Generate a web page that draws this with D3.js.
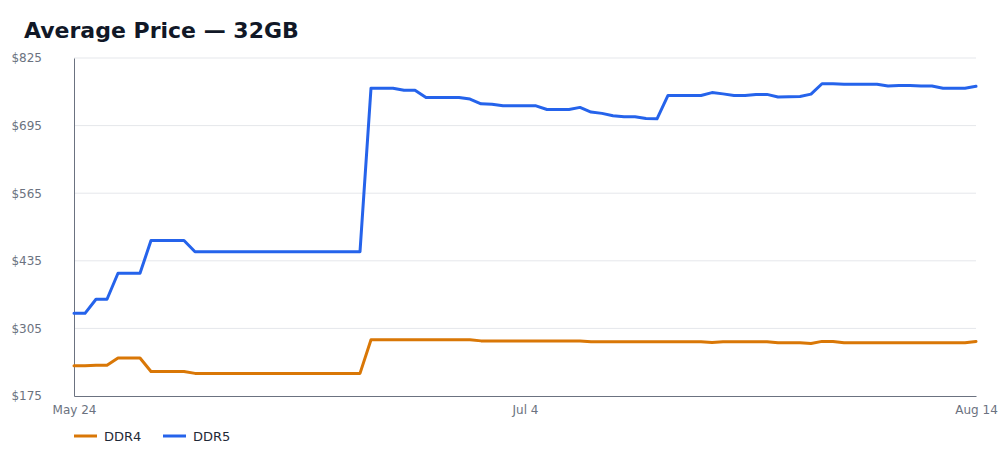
<!DOCTYPE html>
<html>
<head>
<meta charset="utf-8">
<script src="https://cdn.jsdelivr.net/npm/d3@7"></script>
<style>
  html, body { margin: 0; padding: 0; background: #ffffff; }
  svg { display: block; font-family: "DejaVu Sans", sans-serif; }
</style>
</head>
<body>
<svg id="chart" width="1000" height="460"></svg>
<script>
// ---- data ----
const startDate = "2024-05-24";
const endDate = "2024-08-14";
const seriesNames = ["DDR4", "DDR5"];
const ddr4 = [
  233, 233, 234, 234, 248, 248, 248, 222, 222, 222, 222,
  218.5, 218.5, 218.5, 218.5, 218.5, 218.5, 218.5, 218.5,
  218.5, 218.5, 218.5, 218.5, 218.5, 218.5, 218.5, 218.5,
  283, 283, 283, 283, 283, 283, 283, 283, 283, 283,
  281, 281, 281, 281, 281, 281, 281, 281, 281, 281,
  279.5, 279.5, 279.5, 279.5, 279.5, 279.5, 279.5, 279.5, 279.5, 279.5, 279.5,
  278,
  279.5, 279.5, 279.5, 279.5, 279.5,
  277.5, 277.5, 277.5,
  276,
  280, 280,
  277.5, 277.5, 277.5, 277.5, 277.5, 277.5, 277.5, 277.5, 277.5, 277.5, 277.5, 277.5,
  280
];
const ddr5 = [
  334, 334, 361, 361, 411, 411, 411, 474, 474, 474, 474,
  452.5, 452.5, 452.5, 452.5, 452.5, 452.5, 452.5, 452.5,
  452.5, 452.5, 452.5, 452.5, 452.5, 452.5, 452.5, 452.5,
  767, 767, 767, 763, 763, 749, 749, 749, 749, 746,
  737, 736, 733, 733, 733, 733, 726, 726, 726, 730,
  721, 718.5, 714, 712, 712, 708.5, 708,
  753, 753, 753, 753, 758.5, 756, 753, 753, 755, 755,
  750, 750.5, 751, 755.5, 775.5, 775.5, 774.5, 774.5, 774.5, 774.5,
  771, 772, 772, 771, 771, 767, 767, 767, 770.5
];
const yTicks = [175, 305, 435, 565, 695, 825];
const xTickDates = ["2024-05-24", "2024-07-04", "2024-08-14"];
const colors = ["#d97706", "#2563eb"];

// ---- layout ----
const W = 1000, H = 460;
const margin = { top: 58, right: 24, bottom: 64, left: 74 };
const parse = d3.utcParse("%Y-%m-%d");
const dates = d3.utcDay.range(parse(startDate), d3.utcDay.offset(parse(endDate), 1));
const seriesValues = [ddr4, ddr5];

const svg = d3.select("#chart");

const x = d3.scaleUtc()
  .domain([parse(startDate), parse(endDate)])
  .range([margin.left, W - margin.right]);
const y = d3.scaleLinear()
  .domain([175, 825])
  .range([H - margin.bottom, margin.top]);

// title
svg.append("text")
  .attr("x", 24).attr("y", 38)
  .attr("font-size", 22).attr("font-weight", "bold")
  .attr("fill", "#111827")
  .text("Average Price — 32GB");

// grid
svg.append("g")
  .selectAll("line")
  .data(yTicks.slice(1))
  .join("line")
  .attr("x1", margin.left).attr("x2", W - margin.right)
  .attr("y1", d => y(d)).attr("y2", d => y(d))
  .attr("stroke", "#e5e7eb").attr("stroke-width", 1);

// y axis
const yAxis = svg.append("g")
  .attr("transform", `translate(${margin.left},0)`)
  .call(d3.axisLeft(y).tickValues(yTicks).tickSize(0).tickPadding(32).tickFormat(d => "$" + d));
yAxis.select(".domain").attr("stroke", "#6b7280");
yAxis.selectAll("text").attr("font-size", 12).attr("fill", "#6b7280")
  .attr("font-family", "DejaVu Sans, sans-serif");

// x axis
const xAxis = svg.append("g")
  .attr("transform", `translate(0,${H - margin.bottom})`)
  .call(d3.axisBottom(x).tickValues(xTickDates.map(parse)).tickSize(0).tickPadding(9)
    .tickFormat(d3.utcFormat("%b %-d")));
xAxis.select(".domain").attr("stroke", "#6b7280");
xAxis.selectAll("text").attr("font-size", 12).attr("fill", "#6b7280")
  .attr("font-family", "DejaVu Sans, sans-serif");

// lines
const line = d3.line()
  .x((d, i) => x(dates[i]))
  .y(d => y(d));

seriesValues.forEach((vals, k) => {
  svg.append("path")
    .datum(vals)
    .attr("fill", "none")
    .attr("stroke", colors[k])
    .attr("stroke-width", 3)
    .attr("stroke-linejoin", "round")
    .attr("stroke-linecap", "round")
    .attr("d", line);
});

// legend
const legend = svg.append("g").attr("transform", `translate(${margin.left},436)`);
const legendX = [0, 89];
seriesNames.forEach((name, k) => {
  const g = legend.append("g").attr("transform", `translate(${legendX[k]},0)`);
  g.append("line").attr("x1", 0).attr("x2", 23).attr("y1", 0).attr("y2", 0)
    .attr("stroke", colors[k]).attr("stroke-width", 3);
  g.append("text").attr("x", 30).attr("y", 0).attr("dy", "0.35em")
    .attr("font-size", 13).attr("fill", "#1f2937").text(name);
});
</script>
</body>
</html>
